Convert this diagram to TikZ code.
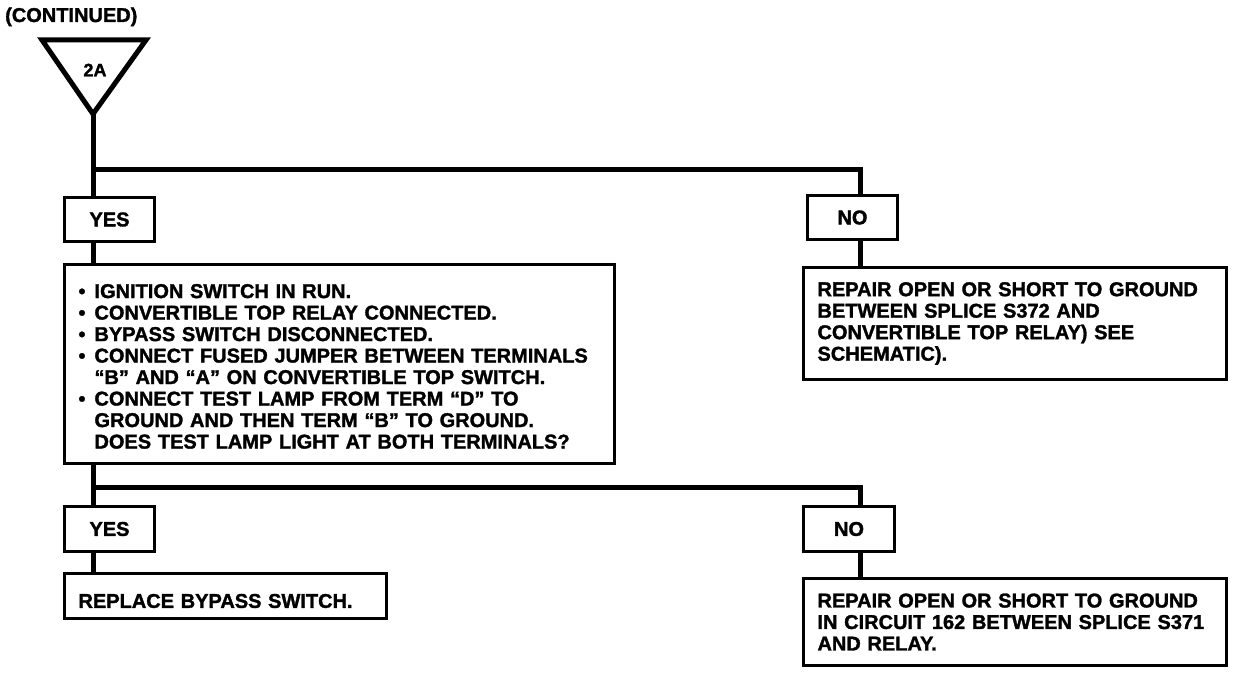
\documentclass[tikz,border=0pt]{standalone}
\usepackage{fontspec}
\setmainfont{Liberation Sans}[BoldFeatures={FakeBold=1.5}]
\usepackage{tikz}
\newcommand{\flowfont}{\fontsize{20}{21.5}\selectfont\bfseries}
\newcommand{\sinktext}[1]{\raisebox{-5pt}[\height][\depth]{#1}}
\tikzset{
  answer/.style={draw,line width=3pt,minimum width=90,minimum height=44,inner sep=0pt,anchor=north west},
  action/.style={draw,line width=3pt,anchor=north west,align=left,inner xsep=14pt,inner ysep=0pt},
  wire/.style={line width=5pt},
}
\begin{document}
\begin{tikzpicture}[x=1pt,y=-1pt,font=\flowfont]
  \useasboundingbox (0,0) rectangle (1248,690);
  \node[anchor=base west,inner sep=0pt] (cont) at (5,22) {(CONTINUED)};
  \draw[line width=5pt,line join=miter] (42,40) -- (146,40) -- (93,114) -- cycle;
  \coordinate (apex) at (93,114);
  \node[font=\fontsize{18}{18}\selectfont\bfseries] (tag) at (95,70) {2A};
  \coordinate (fork1) at (93,170);
  \coordinate (fork2) at (93,487);
  \coordinate (nocol) at (860,0);

  \node[answer] (yes1) at (63,196) {YES};
  \node[answer] (no1) at (806,194) {NO};
  \node[action,minimum width=550,minimum height=199,text width=522] (test) at (63,263)
    {\sinktext{\begin{tabular}{@{}l@{\hspace{9pt}}l@{}}
      \textbullet & IGNITION SWITCH IN RUN.\\
      \textbullet & CONVERTIBLE TOP RELAY CONNECTED.\\
      \textbullet & BYPASS SWITCH DISCONNECTED.\\
      \textbullet & CONNECT FUSED JUMPER BETWEEN TERMINALS\\
      & “B” AND “A” ON CONVERTIBLE TOP SWITCH.\\
      \textbullet & CONNECT TEST LAMP FROM TERM “D” TO\\
      & GROUND AND THEN TERM “B” TO GROUND.\\
      & DOES TEST LAMP LIGHT AT BOTH TERMINALS?
    \end{tabular}}};
  \node[action,minimum width=423,minimum height=112,text width=395] (rep1) at (802,266)
    {REPAIR OPEN OR SHORT TO GROUND\\BETWEEN SPLICE S372 AND\\CONVERTIBLE TOP RELAY) SEE\\SCHEMATIC).};
  \node[answer,minimum height=45] (yes2) at (63,505) {YES};
  \node[answer,minimum height=45,minimum width=91] (no2) at (802,505) {NO};
  \node[action,minimum width=322,minimum height=45,text width=294] (repl) at (63,572)
    {\sinktext{REPLACE BYPASS SWITCH.}};
  \node[action,minimum width=423,minimum height=87,text width=395] (rep2) at (802,577)
    {REPAIR OPEN OR SHORT TO GROUND\\IN CIRCUIT 162 BETWEEN SPLICE S371\\AND RELAY.};

  \draw[wire] (apex) -- (fork1) -| (nocol |- no1.north);
  \draw[wire] (fork1) -- (fork1 |- yes1.north);
  \draw[wire] (fork1 |- yes1.south) -- (fork1 |- test.north);
  \draw[wire] (nocol |- no1.south) -- (nocol |- rep1.north);
  \draw[wire] (fork1 |- test.south) -- (fork2) -| (nocol |- no2.north);
  \draw[wire] (fork2) -- (fork2 |- yes2.north);
  \draw[wire] (fork2 |- yes2.south) -- (fork2 |- repl.north);
  \draw[wire] (nocol |- no2.south) -- (nocol |- rep2.north);
\end{tikzpicture}
\end{document}
